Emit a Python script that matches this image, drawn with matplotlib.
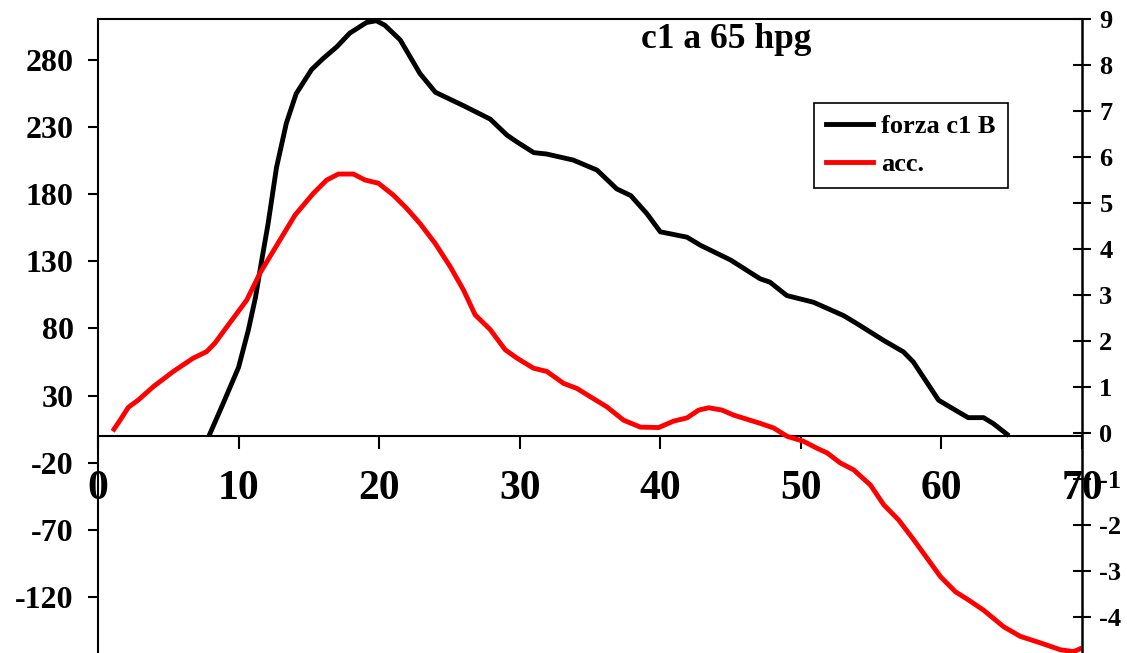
import matplotlib
matplotlib.use("Agg")
import matplotlib.pyplot as plt
from matplotlib.lines import Line2D

# ---- data ----
force_x = [7.9, 8.9, 10.0, 10.7, 11.2, 11.65, 12.1, 12.7, 13.4, 14.1, 15.2, 16.0, 17.0, 17.9,
           19.1, 19.8, 20.4, 21.5, 22.9, 24.0, 26.0, 27.9, 29.1, 29.8, 31.0, 31.9, 33.8, 35.5,
           36.9, 37.9, 39.05, 40.0, 40.95, 41.9, 42.85, 45.0, 47.1, 47.8, 49.0, 50.9, 53.05,
           54.0, 55.9, 57.3, 58.0, 59.8, 60.6, 61.9, 63.0, 63.7, 64.8]
force_y = [0, 24, 51, 79, 103, 131, 158, 200, 233, 255, 273, 281, 290, 300,
           308, 309.3, 306, 295, 270, 256, 246, 236, 224, 219, 211, 210, 205.5, 198,
           184, 179, 165.5, 152, 150, 148, 142, 131, 117, 114.5, 104.5, 99.5, 89.5,
           83.5, 71, 62.5, 55, 26.5, 21.5, 13.5, 13.5, 9, 0]

acc_x = [1.04, 1.57, 2.16, 2.87, 3.94, 5.36, 6.78, 7.73, 8.33, 9.0, 10.58, 11.53, 12.95, 14.02,
         15.32, 16.27, 17.10, 18.17, 19.0, 19.95, 21.02, 21.97, 22.92, 23.99, 25.05, 26.0,
         26.83, 27.9, 28.97, 29.8, 30.98, 31.93, 33.12, 34.07, 35.02, 36.2, 37.39, 38.58,
         39.88, 40.95, 41.9, 42.73, 43.44, 44.39, 45.22, 46.17, 47.12, 48.07, 49.02, 50.2,
         51.15, 51.86, 52.81, 53.76, 54.95, 55.9, 56.96, 58.03, 58.98, 59.93, 61.0, 61.94,
         63.0, 64.43, 65.62, 67.04, 68.47, 69.4, 70.0]
acc_y = [0.04, 0.28, 0.56, 0.72, 1.01, 1.34, 1.63, 1.77, 1.96, 2.24, 2.89, 3.48, 4.20, 4.74,
         5.21, 5.50, 5.63, 5.63, 5.50, 5.43, 5.17, 4.88, 4.55, 4.12, 3.62, 3.11,
         2.57, 2.25, 1.81, 1.63, 1.41, 1.34, 1.08, 0.97, 0.79, 0.57, 0.28, 0.13,
         0.12, 0.26, 0.33, 0.50, 0.55, 0.50, 0.39, 0.30, 0.21, 0.11, -0.07, -0.18,
         -0.33, -0.43, -0.65, -0.80, -1.13, -1.56, -1.89, -2.32, -2.72, -3.12, -3.45, -3.63,
         -3.85, -4.21, -4.42, -4.56, -4.71, -4.75, -4.67]

x_ticks = [0, 10, 20, 30, 40, 50, 60, 70]
left_ticks = [-120, -70, -20, 30, 80, 130, 180, 230, 280]
right_ticks = [-4, -3, -2, -1, 0, 1, 2, 3, 4, 5, 6, 7, 8, 9]
title_text = "c1 a 65 hpg"
labels = ["forza c1 B", "acc."]

# ---- figure ----
W, H = 1127, 653
fig = plt.figure(figsize=(W / 100, H / 100), dpi=100)
serif = ["Liberation Serif", "DejaVu Serif"]

ax = fig.add_axes([98 / W, 0, 984 / W, 634 / H])
ax2 = ax.twinx()

ax.plot(force_x, force_y, color="black", lw=3.5, solid_joinstyle="round", solid_capstyle="butt")
ax2.plot(acc_x, acc_y, color="#ff0000", lw=3.5, solid_joinstyle="round", solid_capstyle="butt")

ax.set_xlim(0, 70)
ax.set_ylim(-161.9, 310.6)
ax2.set_ylim(-4.78, 9.0)

# spines
ax.spines["right"].set_visible(False)
ax.spines["bottom"].set_position(("data", 0))
for s in ["left", "bottom", "top"]:
    ax.spines[s].set_linewidth(1.5)
for s in ["left", "bottom", "top"]:
    ax2.spines[s].set_visible(False)
ax2.spines["right"].set_linewidth(1.8)

ax.set_xticks(x_ticks)
ax.set_xticklabels([str(t) for t in x_ticks], fontfamily=serif, fontweight="bold", fontsize=30)
ax.tick_params(axis="x", direction="out", length=9, width=1.5, pad=16)

ax.set_yticks(left_ticks)
ax.set_yticklabels([str(t) for t in left_ticks], fontfamily=serif, fontweight="bold", fontsize=23)
ax.tick_params(axis="y", direction="out", length=7.5, width=1.5, pad=10)

ax2.set_yticks(right_ticks)
ax2.set_yticklabels([str(t) for t in right_ticks], fontfamily=serif, fontweight="bold", fontsize=19)
ax2.tick_params(axis="y", direction="inout", length=13, width=1.5, pad=6)

fig.text(726 / W, 1 - 40 / H, title_text, ha="center", va="center",
         fontfamily=serif, fontweight="bold", fontsize=25.5)

handles = [Line2D([], [], color="black", lw=3.5), Line2D([], [], color="#ff0000", lw=3.5)]
leg = ax2.legend(handles, labels, loc="upper left", bbox_to_anchor=(814 / W, 1 - 103 / H),
                 bbox_transform=fig.transFigure, frameon=True, fancybox=False, shadow=False,
                 prop={"family": serif, "weight": "bold", "size": 19},
                 handlelength=1.8, handletextpad=0.3, borderpad=0.45, labelspacing=0.55,
                 borderaxespad=0)
leg.get_frame().set_edgecolor("black")
leg.get_frame().set_linewidth(1.2)
leg.get_frame().set_alpha(1)

fig.savefig("out.png", dpi=100)
